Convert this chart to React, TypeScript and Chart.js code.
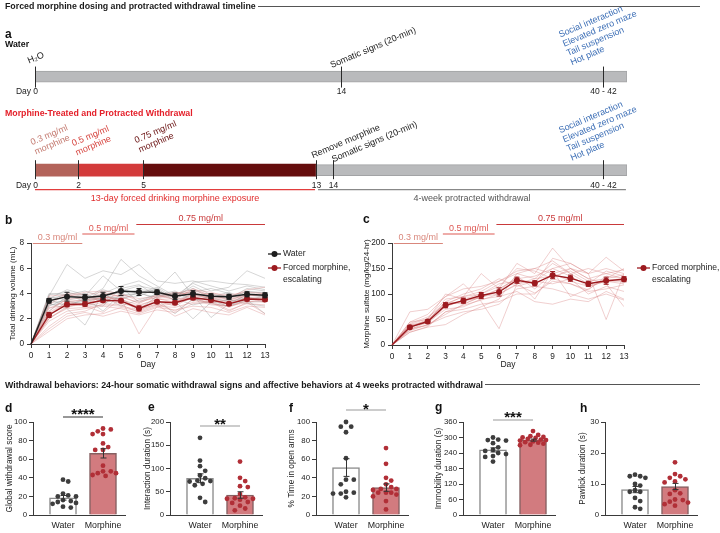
import React, { useEffect, useRef } from 'react';
import { Chart, registerables } from 'chart.js';

Chart.register(...registerables);

const FONT = '"Liberation Sans", Arial, Helvetica, sans-serif';
Chart.defaults.font.family = FONT;
Chart.defaults.color = '#222';

// ---------------- Panel a: timeline ----------------
const timelineEnd = 27.4; // display units (axis is compressed after day 14)
const morphSegStart = [0, 2, 5];
const morphSegEnd = [2, 5, 13];
const withdrawalStart = 13;
const waterTickPos = [0, 14.15, 26.3];
const waterTickLabels = ['0', '14', '40 - 42'];
const morphTickPos = [0, 2, 5, 13, 13.8, 26.3];
const morphTickLabels = ['0', '2', '5', '13', '14', '40 - 42'];
const behaviorTests = ['Social interaction', 'Elevated zero maze', 'Tail suspension', 'Hot plate'];

// ---------------- Panel b / c: daily data ----------------
const days = [0, 1, 2, 3, 4, 5, 6, 7, 8, 9, 10, 11, 12, 13];
const doseLabels = ['0.3 mg/ml', '0.5 mg/ml', '0.75 mg/ml'];
const doseStartDay = [0.1, 2.85, 5.85];
const doseEndDay = [2.85, 5.75, 13];

const waterVolumeMean = [0, 3.42, 3.75, 3.68, 3.8, 4.2, 4.12, 4.1, 3.78, 3.98, 3.78, 3.74, 3.94, 3.86];
const waterVolumeSem = [0, 0.18, 0.35, 0.25, 0.3, 0.35, 0.28, 0.18, 0.25, 0.25, 0.2, 0.2, 0.2, 0.2];
const morphVolumeMean = [0, 2.3, 3.13, 3.17, 3.47, 3.42, 2.82, 3.35, 3.27, 3.66, 3.48, 3.18, 3.56, 3.53];
const morphVolumeSem = [0, 0.2, 0.18, 0.18, 0.15, 0.15, 0.2, 0.12, 0.15, 0.15, 0.15, 0.12, 0.15, 0.15];

const waterVolumeSubjects = [
  [0, 3.8, 6.3, 5.2, 5.8, 5.5, 6.3, 5.0, 4.8, 5.0, 4.6, 4.2, 4.6, 4.3],
  [0, 3.5, 3.0, 3.6, 4.4, 6.7, 5.4, 4.6, 3.8, 4.8, 4.2, 4.5, 5.8, 5.2],
  [0, 3.2, 2.8, 1.5, 4.0, 4.6, 5.0, 4.3, 5.7, 3.8, 4.0, 3.6, 4.2, 4.0],
  [0, 3.9, 4.1, 3.8, 5.4, 4.2, 4.6, 4.3, 3.6, 4.9, 5.0, 4.8, 4.7, 4.5],
  [0, 3.0, 3.6, 4.0, 3.2, 3.7, 3.8, 4.4, 3.4, 2.0, 3.3, 3.5, 3.2, 3.0],
  [0, 3.6, 4.3, 3.9, 3.4, 3.8, 4.0, 3.7, 3.9, 4.4, 3.6, 3.4, 3.6, 3.5],
  [0, 3.3, 3.4, 3.2, 3.0, 4.5, 3.3, 4.0, 3.5, 3.9, 2.1, 3.2, 3.9, 3.7],
  [0, 4.0, 3.9, 4.2, 3.7, 3.6, 2.7, 3.8, 4.0, 4.1, 4.4, 4.0, 3.3, 3.4],
  [0, 2.6, 3.8, 3.5, 3.9, 3.5, 4.1, 3.5, 2.4, 3.6, 3.2, 3.0, 3.5, 2.4],
  [0, 3.7, 3.5, 3.7, 2.6, 4.0, 4.3, 4.2, 3.7, 4.6, 3.9, 3.8, 4.1, 4.1],
  [0, 3.4, 4.0, 3.3, 3.8, 3.0, 3.5, 3.9, 4.2, 3.5, 3.7, 4.1, 3.5, 3.8],
  [0, 3.1, 3.2, 3.4, 4.3, 3.9, 4.0, 4.5, 3.6, 3.1, 3.4, 3.0, 3.7, 3.5],
  [0, 3.6, 3.9, 3.6, 3.5, 4.4, 4.7, 3.8, 4.1, 3.4, 3.8, 3.6, 4.4, 4.2],
];
const morphVolumeSubjects = [
  [0, 2.4, 3.2, 3.0, 2.5, 3.6, 0.8, 3.0, 3.2, 3.6, 3.2, 3.0, 3.3, 3.6],
  [0, 1.0, 2.0, 2.3, 2.4, 2.9, 2.6, 3.1, 2.2, 2.8, 2.5, 2.3, 2.9, 2.3],
  [0, 2.8, 3.5, 3.4, 3.9, 3.3, 3.0, 3.6, 3.8, 4.2, 3.9, 3.5, 3.8, 3.9],
  [0, 3.4, 3.8, 4.1, 4.2, 4.0, 3.4, 3.7, 4.0, 4.3, 4.1, 3.7, 4.3, 4.5],
  [0, 1.8, 2.6, 2.8, 3.0, 2.8, 2.4, 2.9, 2.7, 3.0, 2.9, 2.5, 3.0, 2.9],
  [0, 2.0, 3.0, 3.2, 3.5, 3.4, 2.9, 3.4, 3.0, 3.8, 3.7, 3.3, 3.6, 3.4],
  [0, 2.6, 3.6, 3.6, 4.0, 3.8, 3.2, 3.9, 3.5, 4.4, 3.8, 3.6, 3.9, 3.8],
  [0, 1.4, 2.4, 2.6, 3.2, 3.1, 2.5, 3.0, 2.9, 3.3, 3.4, 2.7, 3.2, 3.1],
  [0, 2.9, 3.0, 3.1, 3.8, 3.5, 3.1, 3.5, 3.6, 3.6, 3.3, 3.4, 3.7, 3.6],
  [0, 2.2, 3.4, 3.0, 3.3, 3.6, 2.8, 3.1, 3.3, 4.0, 3.6, 2.9, 3.5, 3.7],
  [0, 3.8, 3.9, 3.7, 3.6, 3.9, 3.6, 3.8, 4.1, 3.9, 4.0, 3.9, 4.1, 4.0],
  [0, 2.1, 2.8, 2.9, 3.1, 3.0, 2.7, 3.2, 2.6, 3.5, 3.1, 3.0, 3.4, 3.3],
  [0, 1.2, 2.2, 2.5, 2.2, 2.6, 2.3, 2.7, 2.5, 3.2, 3.3, 2.6, 3.3, 2.4],
  [0, 3.1, 4.0, 3.9, 4.1, 3.7, 3.3, 3.7, 3.9, 4.1, 3.7, 3.5, 3.9, 4.0],
  [0, 2.5, 3.3, 3.5, 3.6, 3.2, 2.9, 3.3, 3.4, 3.7, 3.6, 3.2, 3.6, 3.5],
  [0, 2.0, 2.9, 3.3, 3.7, 3.5, 2.6, 3.6, 3.3, 3.9, 3.6, 3.1, 3.7, 3.3],
];

const sulfateMean = [0, 35, 46, 78, 87, 97, 104, 127, 121, 137, 131, 120, 126, 129];
const sulfateSem = [0, 3, 3, 5, 5, 6, 8, 6, 5, 7, 6, 5, 7, 5];
const sulfateSubjects = [
  [0, 42, 55, 80, 95, 140, 110, 160, 140, 190, 150, 130, 120, 75],
  [0, 65, 70, 95, 120, 85, 32, 120, 125, 150, 160, 140, 50, 140],
  [0, 30, 40, 60, 80, 95, 110, 130, 120, 170, 160, 140, 172, 145],
  [0, 45, 50, 100, 90, 100, 120, 125, 90, 145, 95, 110, 130, 150],
  [0, 35, 45, 70, 75, 90, 95, 105, 85, 80, 90, 85, 105, 90],
  [0, 25, 35, 40, 60, 75, 90, 140, 150, 165, 140, 120, 145, 135],
  [0, 38, 48, 85, 100, 110, 130, 115, 125, 120, 130, 100, 115, 105],
  [0, 30, 45, 78, 85, 95, 105, 135, 110, 140, 125, 115, 125, 120],
  [0, 40, 52, 90, 95, 100, 115, 150, 145, 130, 150, 130, 140, 130],
  [0, 33, 38, 65, 70, 80, 85, 100, 100, 130, 120, 105, 110, 118],
  [0, 45, 60, 95, 110, 115, 125, 140, 130, 160, 140, 150, 140, 148],
  [0, 28, 40, 55, 65, 70, 80, 110, 115, 110, 100, 90, 100, 88],
  [0, 35, 47, 85, 80, 95, 100, 120, 130, 135, 145, 125, 130, 138],
  [0, 40, 42, 75, 88, 92, 110, 130, 135, 150, 135, 115, 125, 125],
  [0, 25, 36, 65, 78, 88, 100, 118, 102, 125, 120, 108, 135, 130],
  [0, 35, 50, 80, 95, 105, 125, 145, 150, 140, 150, 140, 150, 140],
];

// ---------------- Panels d-h: withdrawal behaviors ----------------
const groupLabels = ['Water', 'Morphine'];

const dWater = [36, 38, 23, 21, 20, 20, 16, 15, 14, 13, 12, 9, 8];
const dMorph = [90, 93, 87, 92, 87, 77, 73, 70, 70, 53, 47, 45, 47, 45, 42, 43];
const dMean = [18.5, 66.3];
const dSem = [2.5, 5];

const eWater = [166, 117, 105, 95, 85, 79, 74, 73, 72, 67, 64, 37, 28];
const eMorph = [115, 80, 73, 62, 60, 45, 38, 36, 35, 35, 33, 28, 26, 20, 14, 10];
const eMean = [79, 43];
const eSem = [9.5, 7];

const fWater = [100, 95, 95, 89, 61, 38, 38, 33, 24, 25, 23, 23, 19];
const fMorph = [72, 55, 40, 37, 33, 30, 28, 28, 27, 24, 24, 24, 22, 20, 15, 6];
const fMean = [51, 29.5];
const fSem = [9.5, 4];

const gWater = [292, 288, 290, 300, 278, 262, 252, 248, 240, 236, 228, 225, 207];
const gMorph = [325, 310, 305, 302, 300, 298, 295, 292, 290, 288, 285, 282, 280, 276, 272, 270];
const gMean = [252, 290];
const gSem = [8, 4];

const hWater = [13, 12.5, 12.5, 12, 10, 9.5, 8, 7.5, 7.5, 5.5, 4.5, 2, 2.5];
const hMorph = [17, 13.2, 12.5, 12, 11.5, 10.8, 10.5, 8, 7, 6.8, 5, 4.8, 4.3, 4, 3.5, 3];
const hMean = [8.2, 9.2];
const hSem = [1, 1];

// ---------------- helpers ----------------
function rotText(ctx: any, lines: string[], x: number, y: number, color: string, size = 9, angle = 23, lh = 10) {
  ctx.save();
  ctx.translate(x, y);
  ctx.rotate((-angle * Math.PI) / 180);
  ctx.fillStyle = color;
  ctx.font = `${size}px ${FONT}`;
  ctx.textAlign = 'left';
  ctx.textBaseline = 'alphabetic';
  lines.forEach((l, i) => ctx.fillText(l, 0, i * lh));
  ctx.restore();
}

const timelinePlugin = {
  id: 'tlDecor',
  afterDatasetsDraw(chart: any) {
    const o = chart.options.plugins.tlDecor;
    if (!o) return;
    const { ctx } = chart;
    const x = chart.scales.x;
    const y = chart.scales.y;
    ctx.save();
    o.rows.forEach((row: any) => {
      const yc = y.getPixelForValue(row.index);
      ctx.strokeStyle = '#2a2a2a';
      ctx.lineWidth = 1;
      ctx.font = `8.5px ${FONT}`;
      ctx.fillStyle = '#222';
      ctx.textBaseline = 'middle';
      row.ticks.forEach((t: number, i: number) => {
        const px = Math.round(x.getPixelForValue(t)) + 0.5;
        ctx.beginPath();
        ctx.moveTo(px, yc - row.up);
        ctx.lineTo(px, yc + row.down);
        ctx.stroke();
        ctx.textAlign = 'center';
        ctx.fillText(row.labels[i], px, yc + 15.5);
      });
      ctx.textAlign = 'right';
      ctx.fillText('Day', x.getPixelForValue(row.ticks[0]) - 4, yc + 15.5);
      row.notes.forEach((n: any) =>
        rotText(ctx, n.lines, x.getPixelForValue(row.ticks[n.tick]) + n.dx, yc + n.dy, n.color)
      );
    });
    o.spans.forEach((s: any) => {
      const yc = y.getPixelForValue(s.row);
      const x1 = x.getPixelForValue(s.start);
      const x2 = x.getPixelForValue(s.end);
      ctx.strokeStyle = s.color;
      ctx.lineWidth = 1.2;
      ctx.beginPath();
      ctx.moveTo(x1, yc + 19.5);
      ctx.lineTo(x2, yc + 19.5);
      ctx.stroke();
      ctx.fillStyle = s.textColor;
      ctx.font = `9px ${FONT}`;
      ctx.textAlign = 'center';
      ctx.textBaseline = 'middle';
      ctx.fillText(s.text, (x1 + x2) / 2, yc + 28.5);
    });
    ctx.restore();
  },
};

const lineDecor = {
  id: 'lineDecor',
  beforeDatasetDraw(chart: any, args: any) {
    const ds = chart.data.datasets[args.index];
    if (!ds.sem) return;
    const { ctx } = chart;
    const x = chart.scales.x;
    const y = chart.scales.y;
    ctx.save();
    ctx.strokeStyle = ds.borderColor;
    ctx.lineWidth = 1;
    ds.data.forEach((p: any, i: number) => {
      const s = ds.sem[i];
      if (!s) return;
      const px = x.getPixelForValue(p.x);
      const y1 = y.getPixelForValue(p.y + s);
      const y2 = y.getPixelForValue(p.y - s);
      ctx.beginPath();
      ctx.moveTo(px, y1);
      ctx.lineTo(px, y2);
      ctx.moveTo(px - 2.5, y1);
      ctx.lineTo(px + 2.5, y1);
      ctx.moveTo(px - 2.5, y2);
      ctx.lineTo(px + 2.5, y2);
      ctx.stroke();
    });
    ctx.restore();
  },
  afterDraw(chart: any) {
    const o = chart.options.plugins.lineDecor;
    if (!o) return;
    const { ctx } = chart;
    const x = chart.scales.x;
    const top = chart.chartArea.top;
    ctx.save();
    o.doses.forEach((d: any, i: number) => {
      const ly = top - i * 9.5 + 0.5;
      const x1 = x.getPixelForValue(d.start);
      const x2 = x.getPixelForValue(d.end);
      ctx.strokeStyle = d.color;
      ctx.lineWidth = 1.1;
      ctx.beginPath();
      ctx.moveTo(x1, ly);
      ctx.lineTo(x2, ly);
      ctx.stroke();
      ctx.fillStyle = d.color;
      ctx.font = `9px ${FONT}`;
      ctx.textAlign = 'center';
      ctx.textBaseline = 'alphabetic';
      ctx.fillText(d.label, (x1 + x2) / 2, ly - 3.5);
    });
    o.legend.forEach((it: any) => {
      ctx.strokeStyle = it.color;
      ctx.lineWidth = 1.3;
      ctx.beginPath();
      ctx.moveTo(it.x, it.y);
      ctx.lineTo(it.x + 13, it.y);
      ctx.stroke();
      ctx.fillStyle = it.color;
      ctx.beginPath();
      ctx.arc(it.x + 6.5, it.y, 3, 0, Math.PI * 2);
      ctx.fill();
      ctx.fillStyle = '#222';
      ctx.font = `8.6px ${FONT}`;
      ctx.textAlign = 'left';
      ctx.textBaseline = 'middle';
      it.lines.forEach((l: string, i: number) => ctx.fillText(l, it.x + 15, it.y + i * 12));
    });
    ctx.restore();
  },
};

const barDecor = {
  id: 'barDecor',
  afterDatasetsDraw(chart: any) {
    const o = chart.options.plugins.barDecor;
    if (!o) return;
    const { ctx } = chart;
    const x = chart.scales.x;
    const y = chart.scales.y;
    ctx.save();
    ctx.strokeStyle = '#333';
    ctx.lineWidth = 1;
    o.mean.forEach((m: number, i: number) => {
      const px = Math.round(x.getPixelForValue(i + 1)) + 0.5;
      const y1 = y.getPixelForValue(m + o.sem[i]);
      const y2 = y.getPixelForValue(m - o.sem[i]);
      ctx.beginPath();
      ctx.moveTo(px, y1);
      ctx.lineTo(px, y2);
      ctx.moveTo(px - 3, y1);
      ctx.lineTo(px + 3, y1);
      ctx.moveTo(px - 3, y2);
      ctx.lineTo(px + 3, y2);
      ctx.stroke();
    });
    if (o.stars) {
      const top = chart.chartArea.top;
      const x1 = x.getPixelForValue(1);
      const x2 = x.getPixelForValue(2);
      ctx.strokeStyle = o.lineColor;
      ctx.lineWidth = 1.2;
      ctx.beginPath();
      ctx.moveTo(x1, top + o.lineDy);
      ctx.lineTo(x2, top + o.lineDy);
      ctx.stroke();
      ctx.fillStyle = '#111';
      ctx.font = `bold 15px ${FONT}`;
      ctx.textAlign = 'center';
      ctx.textBaseline = 'alphabetic';
      ctx.fillText(o.stars, (x1 + x2) / 2, top + o.starDy + 8.7);
    }
    ctx.restore();
  },
};

// simple bounded beeswarm: horizontal offsets (pixels) so that dots overlap as little as possible
function swarm(values: number[], center: number, yPx: number, xPx: number) {
  const idx = values.map((_, i) => i).sort((a, b) => values[b] - values[a]);
  const placed: number[][] = [];
  const out: any[] = new Array(values.length);
  const step = 2.6;
  const minD = 5.4;
  const maxHalf = 13;
  const cands: number[] = [0];
  for (let k = 1; k * step <= maxHalf; k++) cands.push(k * step, -k * step);
  for (const i of idx) {
    const py = values[i] * yPx;
    let best = 0;
    let bestD = -1;
    for (const off of cands) {
      const d = placed.reduce((m, [qx, qy]) => Math.min(m, Math.hypot(qx - off, qy - py)), Infinity);
      if (d >= minD) { best = off; bestD = d; break; }
      if (d > bestD) { bestD = d; best = off; }
    }
    placed.push([best, py]);
    out[i] = { x: center + best / xPx, y: values[i] };
  }
  return out;
}

const PLOT_H = 93;
const X_UNIT = 40;

const barPanels = [
  { letter: 'd', left: 0, axisX: 33, titleX: 9.5, title: 'Global withdrawal score', max: 100, step: 20, water: dWater, morph: dMorph, mean: dMean, sem: dSem, stars: '****', lineDy: -5, starDy: -11.5, lineColor: '#333' },
  { letter: 'e', left: 140, axisX: 170, titleX: 148, title: 'Interaction duration (s)', max: 200, step: 50, water: eWater, morph: eMorph, mean: eMean, sem: eSem, stars: '**', lineDy: 4, starDy: -2, lineColor: '#9a9a9a' },
  { letter: 'f', left: 284, axisX: 316, titleX: 292, title: '% Time in open arms', max: 100, step: 20, water: fWater, morph: fMorph, mean: fMean, sem: fSem, stars: '*', lineDy: -12, starDy: -17, lineColor: '#9a9a9a' },
  { letter: 'g', left: 430, axisX: 463, titleX: 439, title: 'Immobility duration (s)', max: 360, step: 60, water: gWater, morph: gMorph, mean: gMean, sem: gSem, stars: '***', lineDy: -2, starDy: -9, lineColor: '#9a9a9a' },
  { letter: 'h', left: 572, axisX: 605, titleX: 583, title: 'Pawlick duration (s)', max: 30, step: 10, water: hWater, morph: hMorph, mean: hMean, sem: hSem, stars: '', lineDy: 0, starDy: 0, lineColor: '#9a9a9a' },
];

const axisColor = '#3a3a3a';

function lineChartConfig(opts: any) {
  const datasets: any[] = [];
  opts.means.forEach((m: any) => {
    datasets.push({
      data: days.map((d, i) => ({ x: d, y: m.values[i] })),
      sem: m.sem,
      borderColor: m.color,
      backgroundColor: m.color,
      borderWidth: 1.4,
      pointRadius: (c: any) => (c.dataIndex === 0 ? 0 : 3),
      pointBackgroundColor: m.color,
      pointBorderWidth: 0,
      order: 0,
      clip: false,
      tension: 0,
    });
  });
  opts.subjects.forEach((g: any) => {
    g.rows.forEach((arr: number[]) => {
      datasets.push({
        data: days.map((d, i) => ({ x: d, y: arr[i] })),
        borderColor: g.color,
        borderWidth: 0.8,
        pointRadius: 0,
        order: g.order,
        tension: 0,
      });
    });
  });
  return {
    type: 'line',
    data: { datasets },
    options: {
      animation: false,
      responsive: false,
      devicePixelRatio: 1,
      events: [],
      layout: { padding: opts.padding },
      plugins: {
        legend: { display: false },
        tooltip: { enabled: false },
        lineDecor: { doses: opts.doses, legend: opts.legend },
      },
      scales: {
        x: {
          type: 'linear',
          min: 0,
          max: 13,
          ticks: { stepSize: 1, autoSkip: false, maxRotation: 0, font: { size: 8.3 }, color: '#222', padding: 3 },
          grid: { drawOnChartArea: false, tickLength: 4, color: axisColor },
          border: { color: axisColor, width: 1 },
          title: { display: true, text: 'Day', font: { size: 8.5 }, color: '#222', padding: 0 },
          afterFit: (s: any) => { s.height = opts.xHeight; },
        },
        y: {
          min: 0,
          max: opts.yMax,
          ticks: { stepSize: opts.yStep, autoSkip: false, font: { size: 8.3 }, color: '#222', padding: 3 },
          grid: { drawOnChartArea: false, tickLength: 4, color: axisColor },
          border: { color: axisColor, width: 1 },
          title: { display: true, text: opts.yTitle, font: { size: 8 }, color: '#222', padding: 0 },
          afterFit: (s: any) => { s.width = opts.yWidth; },
        },
      },
    },
    plugins: [lineDecor],
  };
}

function barChartConfig(p: any, width: number) {
  const yPx = PLOT_H / p.max;
  const padLeft = p.titleX - 5 - p.left;
  const yWidth = p.axisX - p.left - padLeft;
  const chartRight = p.axisX + 92;
  return {
    type: 'bar',
    data: {
      datasets: [
        {
          type: 'scatter',
          data: swarm(p.water, 1, yPx, X_UNIT),
          pointRadius: 2.4,
          pointBackgroundColor: '#3d3d3d',
          pointBorderWidth: 0,
          order: 0,
          clip: false,
        },
        {
          type: 'scatter',
          data: swarm(p.morph, 2, yPx, X_UNIT),
          pointRadius: 2.4,
          pointBackgroundColor: '#b12f37',
          pointBorderWidth: 0,
          order: 0,
          clip: false,
        },
        {
          type: 'bar',
          data: [
            { x: 1, y: p.mean[0] },
            { x: 2, y: p.mean[1] },
          ],
          backgroundColor: ['#ffffff', '#d27b7f'],
          borderColor: ['#8c8c8c', '#866062'],
          borderWidth: 1.5,
          barThickness: 27,
          order: 2,
        },
      ],
    },
    options: {
      animation: false,
      responsive: false,
      devicePixelRatio: 1,
      events: [],
      layout: { padding: { left: padLeft, top: 27, right: p.left + width - chartRight, bottom: 0 } },
      plugins: {
        legend: { display: false },
        tooltip: { enabled: false },
        barDecor: { mean: p.mean, sem: p.sem, stars: p.stars, lineDy: p.lineDy, starDy: p.starDy, lineColor: p.lineColor },
      },
      scales: {
        x: {
          type: 'linear',
          min: 0.25,
          max: 2.55,
          offset: false,
          afterBuildTicks: (s: any) => { s.ticks = [{ value: 1 }, { value: 2 }]; },
          ticks: { callback: (_v: any, i: number) => groupLabels[i], font: { size: 8.8 }, color: '#222', padding: 5, autoSkip: false, maxRotation: 0 },
          grid: { drawOnChartArea: false, drawTicks: false },
          border: { color: axisColor, width: 1 },
          afterFit: (s: any) => { s.height = 18; },
        },
        y: {
          min: 0,
          max: p.max,
          ticks: { stepSize: p.step, autoSkip: false, font: { size: 7.8 }, color: '#222', padding: 2 },
          grid: { drawOnChartArea: false, tickLength: 4, color: axisColor },
          border: { color: axisColor, width: 1 },
          title: { display: true, text: p.title, font: { size: 8.3 }, color: '#222', padding: 0 },
          afterFit: (s: any) => { s.width = yWidth; },
        },
      },
    },
    plugins: [barDecor],
  };
}

function Txt(props: any) {
  const { x, y, size, bold, color, children } = props;
  return (
    <div
      style={{
        position: 'absolute',
        left: x,
        top: y,
        fontSize: size,
        lineHeight: 1,
        fontWeight: bold ? 700 : 400,
        color: color || '#111',
        fontFamily: FONT,
        whiteSpace: 'nowrap',
      }}
    >
      {children}
    </div>
  );
}

function Heading(props: any) {
  return (
    <div
      style={{
        position: 'absolute',
        left: 5,
        top: props.y,
        width: 695,
        display: 'flex',
        alignItems: 'center',
        fontFamily: FONT,
        fontSize: 8.8,
        fontWeight: 700,
        lineHeight: 1,
        color: '#1a1a1a',
        whiteSpace: 'nowrap',
      }}
    >
      <span>{props.text}</span>
      <div style={{ flex: 1, height: 1, background: '#555', marginLeft: 2 }} />
    </div>
  );
}

export default function App() {
  const tlRef = useRef<HTMLCanvasElement>(null);
  const bRef = useRef<HTMLCanvasElement>(null);
  const cRef = useRef<HTMLCanvasElement>(null);
  const barRefs = [useRef<HTMLCanvasElement>(null), useRef<HTMLCanvasElement>(null), useRef<HTMLCanvasElement>(null), useRef<HTMLCanvasElement>(null), useRef<HTMLCanvasElement>(null)];

  const barWidth = (p: any) => p.axisX + 96 - p.left;

  useEffect(() => {
    const charts: any[] = [];
    const segColors = ['#b3635a', '#d33b3b', '#650d0d'];

    charts.push(
      new Chart(tlRef.current as any, {
        type: 'bar',
        data: {
          labels: ['Water', 'Morphine'],
          datasets: [
            {
              data: [[0, timelineEnd], [withdrawalStart, timelineEnd]],
              backgroundColor: '#b9babc',
              borderColor: '#a2a3a5',
              borderWidth: 1,
              borderSkipped: false,
              barThickness: 11,
              grouped: false,
            } as any,
            ...morphSegStart.map((s, i) => ({
              data: [null, [s, morphSegEnd[i]]],
              backgroundColor: segColors[i],
              borderWidth: 0,
              barThickness: 12,
              grouped: false,
            })),
          ],
        },
        options: {
          indexAxis: 'y',
          animation: false,
          responsive: false,
          devicePixelRatio: 1,
          events: [],
          layout: { padding: { left: 35, right: 93, top: 29.75, bottom: 0 } },
          plugins: {
            legend: { display: false },
            tooltip: { enabled: false },
            tlDecor: {
              rows: [
                {
                  index: 0,
                  ticks: waterTickPos,
                  labels: waterTickLabels,
                  up: 10,
                  down: 11,
                  notes: [
                    { tick: 0, dx: -6, dy: -13, lines: ['H₂O'], color: '#222' },
                    { tick: 1, dx: -9, dy: -8.5, lines: ['Somatic signs (20-min)'], color: '#222' },
                    { tick: 2, dx: -43, dy: -39, lines: behaviorTests, color: '#3d6fb6' },
                  ],
                },
                {
                  index: 1,
                  ticks: morphTickPos,
                  labels: morphTickLabels,
                  up: 10,
                  down: 9,
                  notes: [
                    { tick: 0, dx: -3, dy: -25, lines: ['0.3 mg/ml', 'morphine'], color: '#c47a70' },
                    { tick: 1, dx: -5, dy: -24, lines: ['0.5 mg/ml', 'morphine'], color: '#d6443f' },
                    { tick: 2, dx: -7, dy: -27, lines: ['0.75 mg/ml', 'morphine'], color: '#6a1212' },
                    { tick: 3, dx: -3, dy: -12, lines: ['Remove morphine'], color: '#222' },
                    { tick: 4, dx: 0, dy: -8, lines: ['Somatic signs (20-min)'], color: '#222' },
                    { tick: 5, dx: -43, dy: -37, lines: behaviorTests, color: '#3d6fb6' },
                  ],
                },
              ],
              spans: [
                { row: 1, start: 0, end: 12.96, color: '#e23d3d', textColor: '#e02c2c', text: '13-day forced drinking morphine exposure' },
                { row: 1, start: 13.1, end: 27.35, color: '#888', textColor: '#555', text: '4-week protracted withdrawal' },
              ],
            },
          },
          scales: {
            x: { type: 'linear', display: false, min: 0, max: timelineEnd },
            y: { type: 'category', display: false },
          },
        } as any,
        plugins: [timelinePlugin],
      } as any)
    );

    const doseColors = ['#d9877c', '#de5a55', '#c9393a'];
    const doses = doseLabels.map((l, i) => ({ label: l, start: doseStartDay[i], end: doseEndDay[i], color: doseColors[i] }));

    charts.push(
      new Chart(
        bRef.current as any,
        lineChartConfig({
          means: [
            { values: waterVolumeMean, sem: waterVolumeSem, color: '#1e1e1e' },
            { values: morphVolumeMean, sem: morphVolumeSem, color: '#9c1a1f' },
          ],
          subjects: [
            { rows: waterVolumeSubjects, color: 'rgba(140,140,140,0.45)', order: 2 },
            { rows: morphVolumeSubjects, color: 'rgba(214,125,125,0.45)', order: 1 },
          ],
          padding: { left: 8, top: 43, right: 95, bottom: 0 },
          yWidth: 23,
          xHeight: 26,
          yMax: 8,
          yStep: 2,
          yTitle: 'Total drinking volume (mL)',
          doses,
          legend: [
            { x: 268, y: 54, color: '#1e1e1e', lines: ['Water'] },
            { x: 268, y: 68, color: '#9c1a1f', lines: ['Forced morphine,', 'escalating'] },
          ],
        }) as any
      )
    );

    charts.push(
      new Chart(
        cRef.current as any,
        lineChartConfig({
          means: [{ values: sulfateMean, sem: sulfateSem, color: '#9c1a1f' }],
          subjects: [{ rows: sulfateSubjects, color: 'rgba(214,120,120,0.45)', order: 1 }],
          padding: { left: 1.5, top: 43, right: 96, bottom: 0 },
          yWidth: 30.5,
          xHeight: 25,
          yMax: 200,
          yStep: 50,
          yTitle: 'Morphine sulfate (mg/kg/24-hr)',
          doses,
          legend: [{ x: 277, y: 68, color: '#9c1a1f', lines: ['Forced morphine,', 'escalating'] }],
        }) as any
      )
    );

    barPanels.forEach((p, i) => {
      charts.push(new Chart(barRefs[i].current as any, barChartConfig(p, barWidth(p)) as any));
    });

    return () => charts.forEach((c) => c.destroy());
  }, []);

  const abs = (left: number, top: number, w: number, h: number): any => ({
    position: 'absolute',
    left,
    top,
    width: w,
    height: h,
  });

  return (
    <div style={{ position: 'absolute', left: 0, top: 0, width: 720, height: 533, overflow: 'hidden', background: '#fff', fontFamily: FONT }}>
      <canvas ref={tlRef} width={720} height={217} style={abs(0, 0, 720, 217)} />
      <canvas ref={bRef} width={360} height={170} style={abs(0, 200, 360, 170)} />
      <canvas ref={cRef} width={360} height={170} style={abs(360, 200, 360, 170)} />
      {barPanels.map((p, i) => (
        <canvas key={p.letter} ref={barRefs[i]} width={barWidth(p)} height={138} style={abs(p.left, 395, barWidth(p), 138)} />
      ))}

      <Heading y={1.7} text="Forced morphine dosing and protracted withdrawal timeline" />
      <Heading y={380.6} text="Withdrawal behaviors: 24-hour somatic withdrawal signs and affective behaviors at 4 weeks protracted withdrawal" />

      <Txt x={5} y={28} size={12} bold>a</Txt>
      <Txt x={5} y={39.6} size={8.8} bold>Water</Txt>
      <Txt x={5} y={108.6} size={8.8} bold color="#e4202a">Morphine-Treated and Protracted Withdrawal</Txt>
      <Txt x={5} y={214} size={12} bold>b</Txt>
      <Txt x={363} y={213} size={12} bold>c</Txt>
      <Txt x={5} y={402} size={12} bold>d</Txt>
      <Txt x={148} y={401} size={12} bold>e</Txt>
      <Txt x={289} y={402} size={12} bold>f</Txt>
      <Txt x={435} y={401} size={12} bold>g</Txt>
      <Txt x={580} y={402} size={12} bold>h</Txt>
    </div>
  );
}
